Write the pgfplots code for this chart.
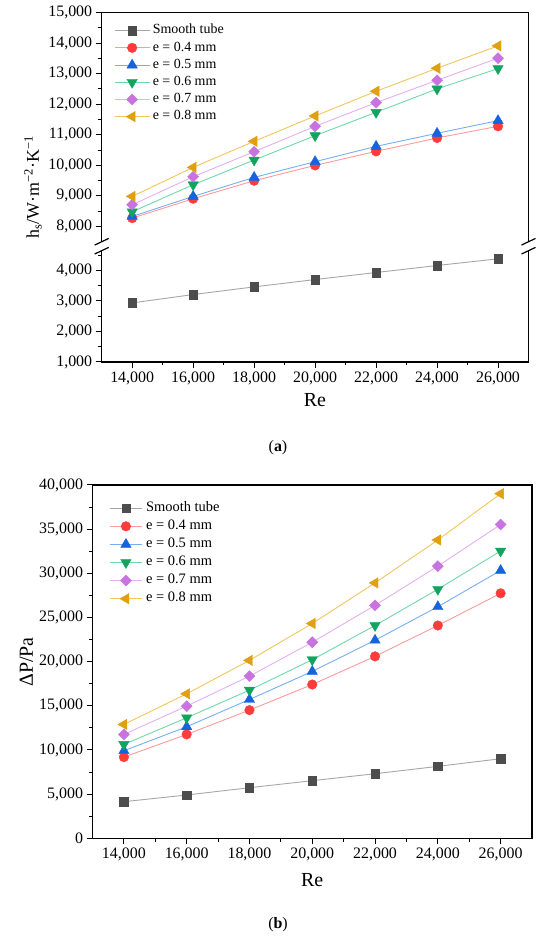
\documentclass[border=0pt]{standalone}
\usepackage{fontspec}
\setmainfont{Liberation Serif}
\usepackage{pgfplots}
\pgfplotsset{compat=1.18}
\definecolor{smM}{HTML}{4D4D4D}
\definecolor{smL}{HTML}{A6A6A6}
\definecolor{rM}{HTML}{FF3B3B}
\definecolor{rL}{HTML}{FF9A9A}
\definecolor{bM}{HTML}{1464E0}
\definecolor{bL}{HTML}{78AEF0}
\definecolor{gM}{HTML}{12A35E}
\definecolor{gL}{HTML}{6FD8A8}
\definecolor{vM}{HTML}{C873E0}
\definecolor{vL}{HTML}{E3B0F2}
\definecolor{oM}{HTML}{E0A010}
\definecolor{oL}{HTML}{F2C65E}
\pgfplotsset{
  base/.style={scale only axis, xmin=13000, xmax=27000, clip=false,
    tick pos=left, tick align=outside, major tick length=6bp, minor tick length=3.5bp,
    every tick/.style={black, line width=1bp},
    scaled ticks=false,
    /pgf/number format/assume math mode=true,
    /pgf/number format/fixed, /pgf/number format/1000 sep={,},
    tick label style={font=\fontsize{16}{16}\selectfont},
    legend cell align=left,
    legend image code/.code={\draw[mark repeat=2,mark phase=2] plot coordinates {(0bp,0bp) (17.5bp,0bp) (35bp,0bp)};},
  },
  sm/.style={color=smL, line width=0.9bp, mark=square*, mark size=4.2bp, mark options={fill=smM, draw=smM, line width=0.4bp}},
  r4/.style={color=rL, line width=0.9bp, mark=*, mark size=4.8bp, mark options={fill=rM, draw=rM, line width=0.4bp}},
  b5/.style={color=bL, line width=0.9bp, mark=triangle*, mark size=6bp, mark options={fill=bM, draw=bM, line width=0.4bp}},
  g6/.style={color=gL, line width=0.9bp, mark=triangle*, mark size=6bp, mark options={rotate=180, fill=gM, draw=gM, line width=0.4bp}},
  v7/.style={color=vL, line width=0.9bp, mark=square*, mark size=3.9bp, mark options={rotate=45, fill=vM, draw=vM, line width=0.4bp}},
  o8/.style={color=oL, line width=0.9bp, mark=triangle*, mark size=6bp, mark options={rotate=90, fill=oM, draw=oM, line width=0.4bp}},
}
\begin{document}
\begin{tikzpicture}[x=1bp,y=1bp]
\useasboundingbox (0,0) rectangle (550,939);

% ---------- (a) upper part ----------
\begin{axis}[base, at={(101.7bp,697.25bp)}, anchor=south west,
  width=426.8bp, height=229.25bp,
  ymin=7500, ymax=15000,
  ytick={8000,9000,...,15000}, minor ytick={8500,9500,...,14500},
  xtick=\empty,
  axis line style={draw=none},
  legend style={draw=none, fill=none, at={(axis description cs:0.0288,0.951)}, anchor=north west,
    inner sep=0pt, row sep=3.7bp, column sep=2.7bp, font=\fontsize{14}{14}\selectfont,
    nodes={inner sep=0pt, text height=10bp, text depth=3.5bp}},
]
\draw[line width=1.2bp] (axis description cs:0,0) -- (axis description cs:0,1) -- (axis description cs:1,1) -- (axis description cs:1,0);
\addlegendimage{sm}
\addlegendentry{Smooth tube}
\addplot[r4] coordinates {(14000,8273) (16000,8906) (18000,9496) (20000,9998) (22000,10457) (24000,10894) (26000,11276)};
\addlegendentry{e = 0.4 mm}
\addplot[b5] coordinates {(14000,8327) (16000,8983) (18000,9605) (20000,10119) (22000,10621) (24000,11047) (26000,11462)};
\addlegendentry{e = 0.5 mm}
\addplot[g6] coordinates {(14000,8480) (16000,9365) (18000,10173) (20000,10970) (22000,11734) (24000,12499) (26000,13165)};
\addlegendentry{e = 0.6 mm}
\addplot[v7] coordinates {(14000,8710) (16000,9627) (18000,10446) (20000,11276) (22000,12051) (24000,12783) (26000,13504)};
\addlegendentry{e = 0.7 mm}
\addplot[o8] coordinates {(14000,8983) (16000,9933) (18000,10785) (20000,11615) (22000,12423) (24000,13176) (26000,13908)};
\addlegendentry{e = 0.8 mm}
\end{axis}

% ---------- (a) lower part ----------
\begin{axis}[base, at={(101.7bp,577bp)}, anchor=south west,
  width=426.8bp, height=111.3bp,
  ymin=1000, ymax=4650,
  ytick={1000,2000,3000,4000}, minor ytick={1500,2500,3500,4500},
  xtick={14000,16000,...,26000}, minor xtick={15000,17000,...,25000},
  axis line style={draw=none},
]
\draw[line width=1.2bp] (axis description cs:0,1) -- (axis description cs:0,0) -- (axis description cs:1,0) -- (axis description cs:1,1);
\addplot[sm] coordinates {(14000,2938) (16000,3211) (18000,3463) (20000,3704) (22000,3934) (24000,4164) (26000,4383)};
\end{axis}

% break marks
\foreach \xx in {101.7,528.5} {
  \foreach \yy in {697.25,688.3} {
    \draw[line width=1.2bp] (\xx-7,\yy-3.3) -- (\xx+7,\yy+3.3);
  }
}

\node[rotate=90, font=\fontsize{18}{18}\selectfont] at (33,752) {h\textsubscript{s}/W·m\textsuperscript{−2}·K\textsuperscript{−1}};
\node[font=\fontsize{20}{20}\selectfont] at (315,539) {Re};
\node[font=\fontsize{16}{16}\selectfont] at (278,491) {(\textbf{a})};

% ---------- (b) ----------
\begin{axis}[base, at={(92.5bp,100.7bp)}, anchor=south west,
  width=439.5bp, height=353.3bp,
  ymin=0, ymax=40000,
  ytick={0,5000,...,40000}, minor ytick={2500,7500,...,37500},
  xtick={14000,16000,...,26000}, minor xtick={15000,17000,...,25000},
  axis line style={line width=1.2bp},
  legend style={draw=none, fill=none, at={(axis description cs:0.0375,0.954)}, anchor=north west,
    inner sep=0pt, row sep=4.6bp, column sep=3.3bp, font=\fontsize{14.5}{14.5}\selectfont,
    nodes={inner sep=0pt, text height=10bp, text depth=3.5bp}},
  legend image code/.code={\draw[mark repeat=2,mark phase=2] plot coordinates {(0bp,0bp) (16.3bp,0bp) (32.7bp,0bp)};},
]
\addplot[sm] coordinates {(14000,4146) (16000,4900) (18000,5729) (20000,6521) (22000,7312) (24000,8142) (26000,9009)};
\addlegendentry{Smooth tube}
\addplot[r4] coordinates {(14000,9197) (16000,11760) (18000,14512) (20000,17410) (22000,20600) (24000,24093) (26000,27737)};
\addlegendentry{e = 0.4 mm}
\addplot[b5] coordinates {(14000,9913) (16000,12627) (18000,15718) (20000,18891) (22000,22423) (24000,26219) (26000,30319)};
\addlegendentry{e = 0.5 mm}
\addplot[g6] coordinates {(14000,10629) (16000,13645) (18000,16773) (20000,20220) (22000,24093) (24000,28193) (26000,32521)};
\addlegendentry{e = 0.6 mm}
\addplot[v7] coordinates {(14000,11760) (16000,14964) (18000,18360) (20000,22195) (22000,26371) (24000,30813) (26000,35520)};
\addlegendentry{e = 0.7 mm}
\addplot[o8] coordinates {(14000,12891) (16000,16359) (18000,20144) (20000,24320) (22000,28914) (24000,33774) (26000,39013)};
\addlegendentry{e = 0.8 mm}
\end{axis}

\node[rotate=90, font=\fontsize{20}{20}\selectfont] at (26.5,277) {ΔP/Pa};
\node[font=\fontsize{20}{20}\selectfont] at (312.25,59) {Re};
\node[font=\fontsize{16}{16}\selectfont] at (278,14) {(\textbf{b})};
\end{tikzpicture}
\end{document}
